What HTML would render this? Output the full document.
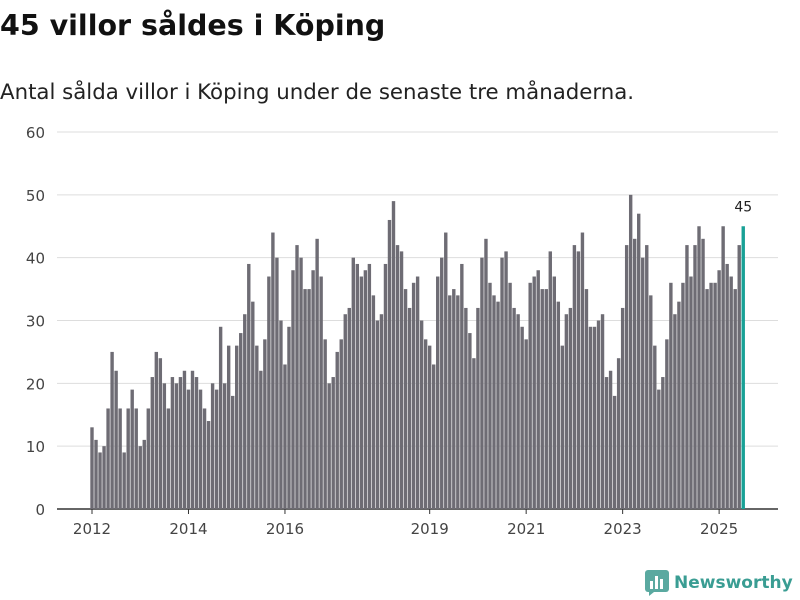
<!DOCTYPE html>
<html><head><meta charset="utf-8"><style>
body{margin:0;width:800px;height:600px;background:#fff;font-family:"DejaVu Sans","Liberation Sans",sans-serif;overflow:hidden;position:relative}
h1{position:absolute;left:0;top:9px;margin:0;font-size:28.5px;font-weight:bold;color:#111}
p{position:absolute;left:0;top:80px;margin:0;font-size:21.3px;color:#222}
</style></head><body>
<h1>45 villor såldes i Köping</h1>
<p>Antal sålda villor i Köping under de senaste tre månaderna.</p>
<svg id="c" width="800" height="600" style="position:absolute;left:0;top:0"></svg>
<script>
const values=[13,11,9,10,16,25,22,16,9,16,19,16,
10,11,16,21,25,24,20,16,21,20,21,22,
19,22,21,19,16,14,20,19,29,20,26,18,
26,28,31,39,33,26,22,27,37,44,40,30,
23,29,38,42,40,35,35,38,43,37,27,20,
21,25,27,31,32,40,39,37,38,39,34,30,
31,39,46,49,42,41,35,32,36,37,30,27,
26,23,37,40,44,34,35,34,39,32,28,24,
32,40,43,36,34,33,40,41,36,32,31,29,
27,36,37,38,35,35,41,37,33,26,31,32,
42,41,44,35,29,29,30,31,21,22,18,24,
32,42,50,43,47,40,42,34,26,19,21,27,
36,31,33,36,42,37,42,45,43,35,36,36,
38,45,39,37,35,42,45];
const yTicks=[0,10,20,30,40,50,60];
const xTickYears=[2012,2014,2016,2019,2021,2023,2025];
const startYear=2012;
const svg=document.getElementById('c');
const NS='http://www.w3.org/2000/svg';
const y=v=>509-v*(377/60);
const x=i=>92+i*4.02;
function mk(t,a){const e=document.createElementNS(NS,t);for(const k in a)e.setAttribute(k,a[k]);svg.appendChild(e);return e;}
yTicks.forEach(t=>{
 const l=mk('line',{x1:57,x2:778,y1:y(t),y2:y(t),stroke:t===0?'#333':'#ddd','stroke-width':t===0?1.5:1});
 
 
 const tx=mk('text',{x:45,y:y(t)+6,'text-anchor':'end','font-size':15,fill:'#444'});
 tx.textContent=t;
 
 
});
values.forEach((v,i)=>{
 const last=i===values.length-1;
 const r=mk('rect',{x:x(i)-1.7,y:y(v),width:3.4,height:509-y(v),fill:last?'#18a196':'#6e6c74'});
 
 
 if(last){const t=mk('text',{x:x(i),y:y(v)-15,'text-anchor':'middle','font-size':14,fill:'#222'});t.textContent=v;
 
 }
});
xTickYears.forEach(yr=>{
 const xi=x((yr-startYear)*12);
 const l=mk('line',{x1:xi,x2:xi,y1:509,y2:514,stroke:'#333'});
 
 
 const t=mk('text',{x:xi,y:534,'text-anchor':'middle','font-size':15,fill:'#444'});
 t.textContent=yr;
 
 
});
</script>
<div style="position:absolute;left:645px;top:570px;display:flex;align-items:center;gap:5px">
<svg width="24" height="26"><rect x="0" y="0" width="24" height="22" rx="3" fill="#5aa9a0"/><path d="M4 22 L4 26 L9 22Z" fill="#5aa9a0"/><rect x="5" y="11" width="3" height="8" fill="#fff"/><rect x="10" y="6" width="3" height="13" fill="#fff"/><rect x="15" y="9" width="3" height="10" fill="#fff"/></svg>
<span style="font-size:17px;font-weight:bold;color:#3a9d93">Newsworthy</span></div>
</body></html>
